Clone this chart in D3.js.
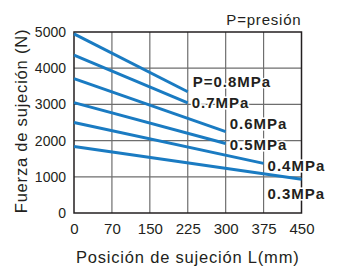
<!DOCTYPE html>
<html>
<head>
<meta charset="utf-8">
<script src="https://cdn.jsdelivr.net/npm/d3@7"></script>
<style>
  body { margin: 0; background: #fff; }
  svg { display: block; font-family: "Liberation Sans", Arial, sans-serif; }
</style>
</head>
<body>
<svg id="chart" width="342" height="267"></svg>
<script>
// clamping force vs. clamping position, one line per pressure
const xTickPos = [0, 75, 150, 225, 300, 375, 450];
const xTickLabels = ["0", "70", "150", "225", "300", "375", "450"];
const yTicks = [0, 1000, 2000, 3000, 4000, 5000];

const seriesLabels = ["P=0.8MPa", "0.7MPa", "0.6MPa", "0.5MPa", "0.4MPa", "0.3MPa"];
const startPos = [0, 0, 0, 0, 0, 0];
const endPos = [225, 225, 300, 300, 375, 450];
const startForce = [4950, 4360, 3710, 3050, 2500, 1840];
const endForce = [3350, 3040, 2250, 1920, 1370, 930];

const blue = "#1a7bc2";
const ink = "#231f20";

const svg = d3.select("#chart");
const box = { left: 74, right: 301.5, top: 32, bottom: 213 };

const x = d3.scaleLinear().domain([0, 450]).range([box.left, box.right]);
const y = d3.scaleLinear().domain([0, 5000]).range([box.bottom, box.top]);

// grid
const grid = svg.append("g").attr("stroke", "#6e6e6e").attr("stroke-width", 1.2);
grid.selectAll("line.v").data(xTickPos.slice(1, -1)).enter().append("line")
    .attr("x1", d => x(d)).attr("x2", d => x(d))
    .attr("y1", box.top).attr("y2", box.bottom);
grid.selectAll("line.h").data(yTicks.slice(1, -1)).enter().append("line")
    .attr("x1", box.left).attr("x2", box.right)
    .attr("y1", d => y(d)).attr("y2", d => y(d));

svg.append("rect")
    .attr("x", box.left).attr("y", box.top)
    .attr("width", box.right - box.left).attr("height", box.bottom - box.top)
    .attr("fill", "none").attr("stroke", ink).attr("stroke-width", 1.5);

// axes
const xAxis = svg.append("g")
    .attr("transform", `translate(0,${box.bottom})`)
    .call(d3.axisBottom(x).tickValues(xTickPos).tickSize(0).tickPadding(10)
        .tickFormat((d, i) => xTickLabels[i]));
const yAxis = svg.append("g")
    .attr("transform", `translate(${box.left},0)`)
    .call(d3.axisLeft(y).tickValues(yTicks).tickSize(0).tickPadding(8)
        .tickFormat(d3.format("d")));
[xAxis, yAxis].forEach(a => {
    a.select(".domain").remove();
    a.selectAll("text").attr("fill", ink).attr("font-family", "Liberation Sans, Arial, sans-serif");
});
xAxis.selectAll("text").attr("font-size", 15);
yAxis.selectAll("text").attr("font-size", 14);

// lines
const series = seriesLabels.map((name, i) => ({
    name,
    pts: [[startPos[i], startForce[i]], [endPos[i], endForce[i]]]
}));
const line = d3.line().x(d => x(d[0])).y(d => y(d[1]));
svg.append("g").selectAll("path").data(series).enter().append("path")
    .attr("d", d => line(d.pts))
    .attr("fill", "none").attr("stroke", blue).attr("stroke-width", 3);

// series labels, placed next to each line end
const labelDx = [5, 4, 4, 4, 4, -34];
const labelDy = [-10, 0, -8, 1, 2, 14];
svg.append("g").selectAll("text").data(series).enter().append("text")
    .attr("x", (d, i) => x(endPos[i]) + labelDx[i])
    .attr("y", (d, i) => y(endForce[i]) + labelDy[i])
    .attr("dy", "0.36em")
    .attr("font-size", 15).attr("font-weight", "bold")
    .attr("letter-spacing", 1)
    .attr("fill", ink)
    .attr("stroke", "#fff").attr("stroke-width", 3).attr("paint-order", "stroke")
    .text(d => d.name);

// titles
svg.append("text")
    .attr("x", box.right).attr("y", 25)
    .attr("text-anchor", "end").attr("font-size", 15).attr("letter-spacing", 0.8)
    .attr("fill", ink).text("P=presión");

svg.append("text")
    .attr("x", (box.left + box.right) / 2).attr("y", 263)
    .attr("text-anchor", "middle").attr("font-size", 16.5).attr("letter-spacing", 0.8)
    .attr("fill", ink).text("Posición de sujeción L(mm)");

svg.append("text")
    .attr("transform", `translate(27,${(28 + 214) / 2}) rotate(-90)`)
    .attr("text-anchor", "middle").attr("font-size", 16.5).attr("letter-spacing", 0.8)
    .attr("fill", ink).text("Fuerza de sujeción (N)");
</script>
</body>
</html>
